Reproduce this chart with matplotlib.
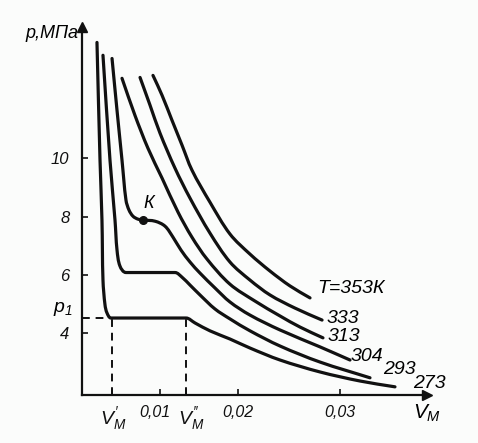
import numpy as np
import matplotlib
matplotlib.use("Agg")
import matplotlib.pyplot as plt
import matplotlib.transforms as mtransforms
from matplotlib.path import Path
from matplotlib.patches import PathPatch

plt.rcParams['font.family'] = ['Liberation Sans', 'DejaVu Sans']
plt.rcParams['font.style'] = 'italic'
plt.rcParams['mathtext.fontset'] = 'custom'
plt.rcParams['mathtext.it'] = 'Liberation Sans:italic'
plt.rcParams['mathtext.rm'] = 'Liberation Sans:italic'

# ---- data (molar volume V_M, m^3/mol ; pressure p, MPa) ----
v_273 = [0.00192, 0.00231, 0.00256, 0.00269, 0.00295, 0.00321, 0.00372, 0.01333,
         0.01449, 0.01641, 0.01897, 0.02118, 0.02412, 0.02804, 0.03196, 0.03539]
p_273 = [13.97, 9.93, 7.88, 5.82, 4.97, 4.69, 4.52, 4.52,
         4.35, 4.08, 3.80, 3.49, 3.08, 2.67, 2.36, 2.16]

v_293 = [0.00269, 0.00359, 0.00423, 0.00449, 0.00487, 0.00564, 0.01192, 0.01282,
         0.01385, 0.01513, 0.01705, 0.01897, 0.02118, 0.02412, 0.02804, 0.03294]
p_293 = [13.53, 9.93, 7.88, 6.85, 6.30, 6.08, 6.08, 5.92,
         5.65, 5.31, 4.83, 4.49, 4.08, 3.56, 3.01, 2.47]

v_304 = [0.00385, 0.00449, 0.00513, 0.00564, 0.00603, 0.00654, 0.00718, 0.00782,
         0.00936, 0.01064, 0.01167, 0.01269, 0.01385, 0.01513, 0.01705, 0.01897,
         0.02118, 0.02412, 0.02804, 0.03098]
p_304 = [13.42, 11.64, 9.93, 8.56, 8.22, 8.01, 7.91, 7.88,
         7.84, 7.67, 7.29, 6.85, 6.44, 6.06, 5.55, 5.07,
         4.62, 4.11, 3.53, 3.08]

v_313 = [0.00513, 0.00679, 0.00846, 0.01026, 0.01231, 0.01410, 0.01603, 0.01897,
         0.02167, 0.02412, 0.02608, 0.02833]
p_313 = [12.74, 11.47, 10.34, 9.32, 8.15, 7.29, 6.54, 5.68,
         5.10, 4.59, 4.21, 3.84]

v_333 = [0.00744, 0.00872, 0.01000, 0.01192, 0.01385, 0.01641, 0.01897, 0.02118,
         0.02314, 0.02559, 0.02824]
p_333 = [12.77, 11.82, 10.86, 9.66, 8.63, 7.43, 6.44, 5.82,
         5.31, 4.86, 4.45]

v_353 = [0.00910, 0.01026, 0.01154, 0.01282, 0.01410, 0.01641, 0.01897, 0.02118,
         0.02314, 0.02510, 0.02706]
p_353 = [12.84, 12.16, 11.30, 10.45, 9.59, 8.49, 7.40, 6.71,
         6.13, 5.62, 5.21]

curve_labels = ["273", "293", "304", "313", "333", "T=353К"]
K_point = (0.00782, 7.88)
p1 = 4.52
V1 = 0.0038
V2 = 0.0133

y_ticks = [4, 6, 8, 10]
y_ticklabels = ["4", "6", "8", "10"]
x_ticks = [V1, 0.01, V2, 0.02, 0.03]
x_ticklabels = [r"$V_{М}^{\prime}$", "0,01", r"$V_{М}^{\prime\prime}$", "0,02", "0,03"]

# schematic (non-uniform) abscissa of the original drawing
scale_v = [0.0, 0.02, 0.03, 0.05]
scale_u = [0.0, 156.0, 258.0, 462.0]
P_UNIT = 29.2  # drawing units per MPa, used only for smooth-curve tangents


def fwd(v):
    return np.interp(v, scale_v, scale_u)


def inv(u):
    return np.interp(u, scale_u, scale_v)


def smooth_path(v, p):
    """Smooth cubic-Bezier path passing through every data point."""
    S = np.column_stack([fwd(np.asarray(v, float)), np.asarray(p, float) * P_UNIT])
    n = len(S)
    T = np.zeros_like(S)
    for i in range(n):
        a = S[max(i - 1, 0)]
        b = S[min(i + 1, n - 1)]
        d = b - a
        T[i] = d / np.hypot(*d)
        # keep horizontal plateaus straight
        if (i > 0 and S[i, 1] == S[i - 1, 1]) or (i < n - 1 and S[i + 1, 1] == S[i, 1]):
            T[i] = (1.0, 0.0)
    verts = [S[0]]
    codes = [Path.MOVETO]
    for i in range(n - 1):
        L = np.hypot(*(S[i + 1] - S[i]))
        verts += [S[i] + T[i] * L / 3, S[i + 1] - T[i + 1] * L / 3, S[i + 1]]
        codes += [Path.CURVE4] * 3
    verts = np.array(verts)
    out = np.column_stack([inv(verts[:, 0]), verts[:, 1] / P_UNIT])
    return Path(out, codes)


fig = plt.figure(figsize=(4.78, 4.43), dpi=100)
fig.patch.set_facecolor('#fbfcfb')
ax = fig.add_axes([82 / 478, 1 - 395 / 443, 345 / 478, 368 / 443])
ax.set_facecolor('none')
ax.set_xscale('function', functions=(fwd, inv))
ax.set_xlim(0, 0.03853)
ax.set_ylim(1.88, 14.5)

lw = 2.3
curves = [(v_273, p_273), (v_293, p_293), (v_304, p_304),
          (v_313, p_313), (v_333, p_333), (v_353, p_353)]
for v, p in curves:
    patch = PathPatch(smooth_path(v, p), facecolor='none', edgecolor='#111111',
                      lw=lw, capstyle='round', joinstyle='round', clip_on=False)
    ax.add_patch(patch)

# dashed construction lines
dash = dict(color='#111111', lw=1.4, dashes=(4, 3))
ax.plot([0, V1], [p1, p1], **dash)
ax.plot([V1, V1], [1.88, p1], **dash)
ax.plot([V2, V2], [1.88, p1], **dash)

# critical point
ax.plot([K_point[0]], [K_point[1]], 'o', color='#111111', ms=5.5)
ax.annotate("К", xy=K_point, xytext=(6, 17), textcoords='offset pixels',
            ha='center', va='center', fontsize=13)

# curve labels
offsets = [(18, 3), (13, 8), (1, 4), (5, 1), (5, 2), (7, 9)]
for (v, p), lab, off in zip(curves, curve_labels, offsets):
    ax.annotate(lab, xy=(v[-1], p[-1]), xytext=off, textcoords='offset pixels',
                ha='left', va='center', fontsize=14, annotation_clip=False)

# axes styling
for s in ['top', 'right']:
    ax.spines[s].set_visible(False)
for s in ['left', 'bottom']:
    ax.spines[s].set_linewidth(1.6)
    ax.spines[s].set_color('#111111')

ax.set_yticks(y_ticks)
ax.set_yticklabels(y_ticklabels)
ax.set_xticks(x_ticks)
ax.set_xticklabels(x_ticklabels)
ax.minorticks_off()
ax.tick_params(axis='both', direction='in', length=4, width=1.2, labelsize=12,
               colors='#111111')
ax.tick_params(axis='y', pad=9)
ax.tick_params(axis='x', pad=7)
xlabels = ax.get_xticklabels()
for lbl in xlabels:
    if lbl.get_text().startswith('$'):
        lbl.set_fontsize(14)
    else:
        lbl.set_fontsize(11.5)
# small horizontal nudges so that 0,01 and V''_M do not collide
nudges = [2, -5, 5, 0, 0]
for lbl, dx in zip(xlabels, nudges):
    lbl.set_transform(lbl.get_transform() +
                      mtransforms.ScaledTranslation(dx / 100, 0, fig.dpi_scale_trans))

# p1 label
ax.annotate(r"$p_1$", xy=(0, p1), xytext=(-19, 9), textcoords='offset pixels',
            ha='center', va='center', fontsize=14, annotation_clip=False)

# arrows at axis ends
ax.plot(1, 0, '>', color='#111111', ms=7, transform=ax.transAxes, clip_on=False)
ax.plot(0, 1, '^', color='#111111', ms=7, transform=ax.transAxes, clip_on=False)

# axis titles
ax.text(-0.087, 0.981, "p,МПа", transform=ax.transAxes, ha='center', va='center',
        fontsize=13)
ax.text(1.0, -0.05, r"$V_{М}$", transform=ax.transAxes, ha='center', va='center',
        fontsize=15)

fig.savefig("out.png", dpi=100, facecolor=fig.get_facecolor())
